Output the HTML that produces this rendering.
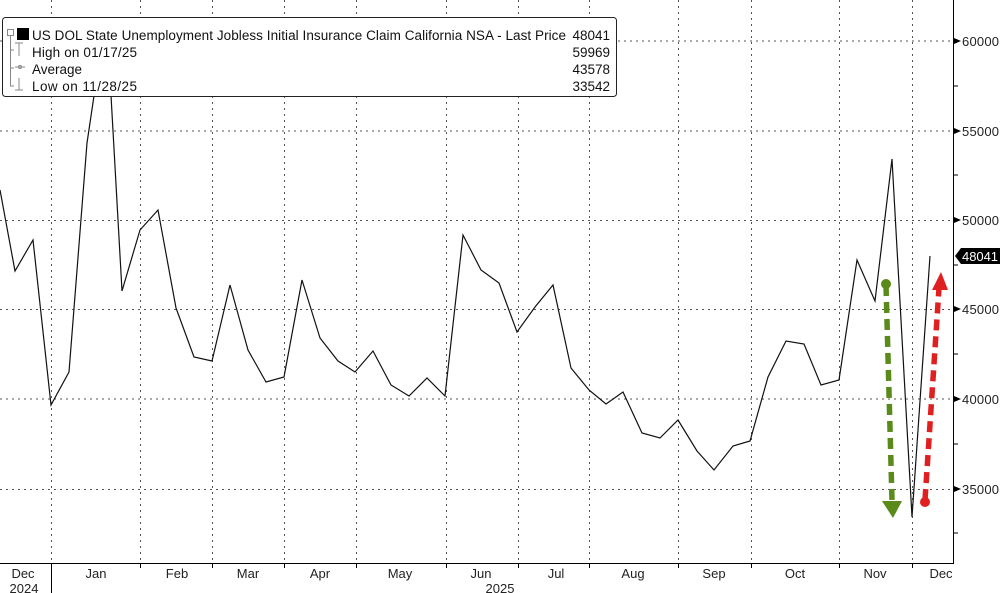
<!DOCTYPE html>
<html><head><meta charset="utf-8"><style>
body{margin:0;background:#fff;}
svg{display:block;font-family:"Liberation Sans","DejaVu Sans",sans-serif;}
</style></head><body>
<svg width="1000" height="593" viewBox="0 0 1000 593" xmlns="http://www.w3.org/2000/svg">
<g stroke="#555" stroke-width="1" stroke-dasharray="2,4">
<line x1="0" y1="41" x2="953" y2="41"/><line x1="0" y1="131" x2="953" y2="131"/>
<line x1="0" y1="220.5" x2="953" y2="220.5"/><line x1="0" y1="309.5" x2="953" y2="309.5"/>
<line x1="0" y1="399" x2="953" y2="399"/><line x1="0" y1="489.5" x2="953" y2="489.5"/>
<line x1="51.5" y1="0" x2="51.5" y2="563"/><line x1="140.5" y1="0" x2="140.5" y2="563"/>
<line x1="212.5" y1="0" x2="212.5" y2="563"/><line x1="284.5" y1="0" x2="284.5" y2="563"/>
<line x1="356.5" y1="0" x2="356.5" y2="563"/><line x1="446.5" y1="0" x2="446.5" y2="563"/>
<line x1="518.5" y1="0" x2="518.5" y2="563"/><line x1="589.5" y1="0" x2="589.5" y2="563"/>
<line x1="678.5" y1="0" x2="678.5" y2="563"/><line x1="751.5" y1="0" x2="751.5" y2="563"/>
<line x1="839.5" y1="0" x2="839.5" y2="563"/><line x1="912.5" y1="0" x2="912.5" y2="563"/>
</g>
<polyline fill="none" stroke="#111" stroke-width="1.2" points="0,190 15,271 33,240 51,405 69,372 87,143 102,42 108,42 122,291 140,230 158,210 176,308 194,357 212,361 230,285 248,350 266,382 284,377 302,280 320,338 338,361 355,372 373,351 391,385 409,396 427,378 445,396 463,235 481,270 499,283 517,332 535,307 553,285 571,368 589,390 606,404 623,392 642,433 660,438 678,420 697,451 714,470 733,446 750,441 768,377 786,341 804,344 821,385 839,380 857,260 875,301 892,159 912,517 930,256"/>
<line x1="886" y1="285" x2="892" y2="500" stroke="#5a8a1a" stroke-width="5.5" stroke-dasharray="11,6"/>
<circle cx="886" cy="284" r="5" fill="#5a8a1a"/>
<polygon points="882,501 902,501 893,518" fill="#5a8a1a"/>
<line x1="925" y1="500" x2="939" y2="288" stroke="#e02020" stroke-width="5.5" stroke-dasharray="11,6"/>
<circle cx="925" cy="502" r="5" fill="#e02020"/>
<polygon points="932,290 948,290 941,272" fill="#e02020"/>
<line x1="953.5" y1="0" x2="953.5" y2="563" stroke="#000"/>
<line x1="0" y1="563.5" x2="954" y2="563.5" stroke="#000"/>
<g stroke="#000">
<line x1="953" y1="86" x2="958" y2="86"/><line x1="953" y1="175" x2="958" y2="175"/>
<line x1="953" y1="265" x2="958" y2="265"/><line x1="953" y1="354" x2="958" y2="354"/>
<line x1="953" y1="444" x2="958" y2="444"/><line x1="953" y1="533" x2="958" y2="533"/>
<line x1="51.5" y1="563" x2="51.5" y2="593"/>
<line x1="140.5" y1="563" x2="140.5" y2="568"/><line x1="212.5" y1="563" x2="212.5" y2="568"/>
<line x1="284.5" y1="563" x2="284.5" y2="568"/><line x1="356.5" y1="563" x2="356.5" y2="568"/>
<line x1="446.5" y1="563" x2="446.5" y2="568"/><line x1="518.5" y1="563" x2="518.5" y2="568"/>
<line x1="589.5" y1="563" x2="589.5" y2="568"/><line x1="678.5" y1="563" x2="678.5" y2="568"/>
<line x1="751.5" y1="563" x2="751.5" y2="568"/><line x1="839.5" y1="563" x2="839.5" y2="568"/>
<line x1="912.5" y1="563" x2="912.5" y2="568"/>
</g>
<g fill="#000">
<polygon points="954,38 961,41 954,44"/><polygon points="954,128 961,131 954,134"/>
<polygon points="954,217 961,220 954,223"/><polygon points="954,306 961,309 954,312"/>
<polygon points="954,396 961,399 954,402"/><polygon points="954,486 961,489 954,492"/>
</g>
<g font-size="13" fill="#222">
<text x="962" y="46" textLength="37">60000</text><text x="962" y="136" textLength="37">55000</text>
<text x="962" y="225" textLength="37">50000</text><text x="962" y="314" textLength="37">45000</text>
<text x="962" y="404" textLength="37">40000</text><text x="962" y="494" textLength="37">35000</text>
</g>
<polygon points="955,256 961,248 1000,248 1000,264 961,264" fill="#000"/>
<text x="962" y="261" font-size="13" fill="#fff" textLength="36">48041</text>
<g font-size="13" fill="#222" text-anchor="middle">
<text x="23" y="578">Dec</text><text x="96" y="578">Jan</text><text x="177" y="578">Feb</text>
<text x="248" y="578">Mar</text><text x="320" y="578">Apr</text><text x="400" y="578">May</text>
<text x="481" y="578">Jun</text><text x="556" y="578">Jul</text><text x="633" y="578">Aug</text>
<text x="714" y="578">Sep</text><text x="795" y="578">Oct</text><text x="875" y="578">Nov</text>
<text x="941" y="578">Dec</text>
<text x="24" y="593">2024</text><text x="500" y="593">2025</text>
</g>
<rect x="2.5" y="17.5" width="614" height="79" rx="3" fill="#fff" stroke="#222"/>
<g stroke="#888" fill="none">
<rect x="7.5" y="29.5" width="6" height="6"/>
<line x1="10.5" y1="36" x2="10.5" y2="86"/>
<line x1="10" y1="50" x2="14" y2="50"/><line x1="10" y1="68" x2="14" y2="68"/><line x1="10" y1="86" x2="14" y2="86"/>
<line x1="15" y1="43" x2="23" y2="43"/><line x1="19" y1="43" x2="19" y2="56"/>
<line x1="15" y1="67" x2="25" y2="67"/><circle cx="20" cy="67" r="1.5"/>
<line x1="19" y1="78" x2="19" y2="90"/><line x1="15" y1="90" x2="23" y2="90"/>
</g>
<rect x="17" y="28" width="12" height="12" fill="#000"/>
<g font-size="13.5" fill="#111">
<text x="32" y="40" textLength="534">US DOL State Unemployment Jobless Initial Insurance Claim California NSA - Last Price</text>
<text x="32" y="57" textLength="105">High on 01/17/25</text>
<text x="32" y="74">Average</text>
<text x="32" y="91" textLength="105">Low on 11/28/25</text>
</g>
<g font-size="13.5" fill="#111" text-anchor="end">
<text x="610" y="40">48041</text><text x="610" y="57">59969</text>
<text x="610" y="74">43578</text><text x="610" y="91">33542</text>
</g>
</svg>
</body></html>
